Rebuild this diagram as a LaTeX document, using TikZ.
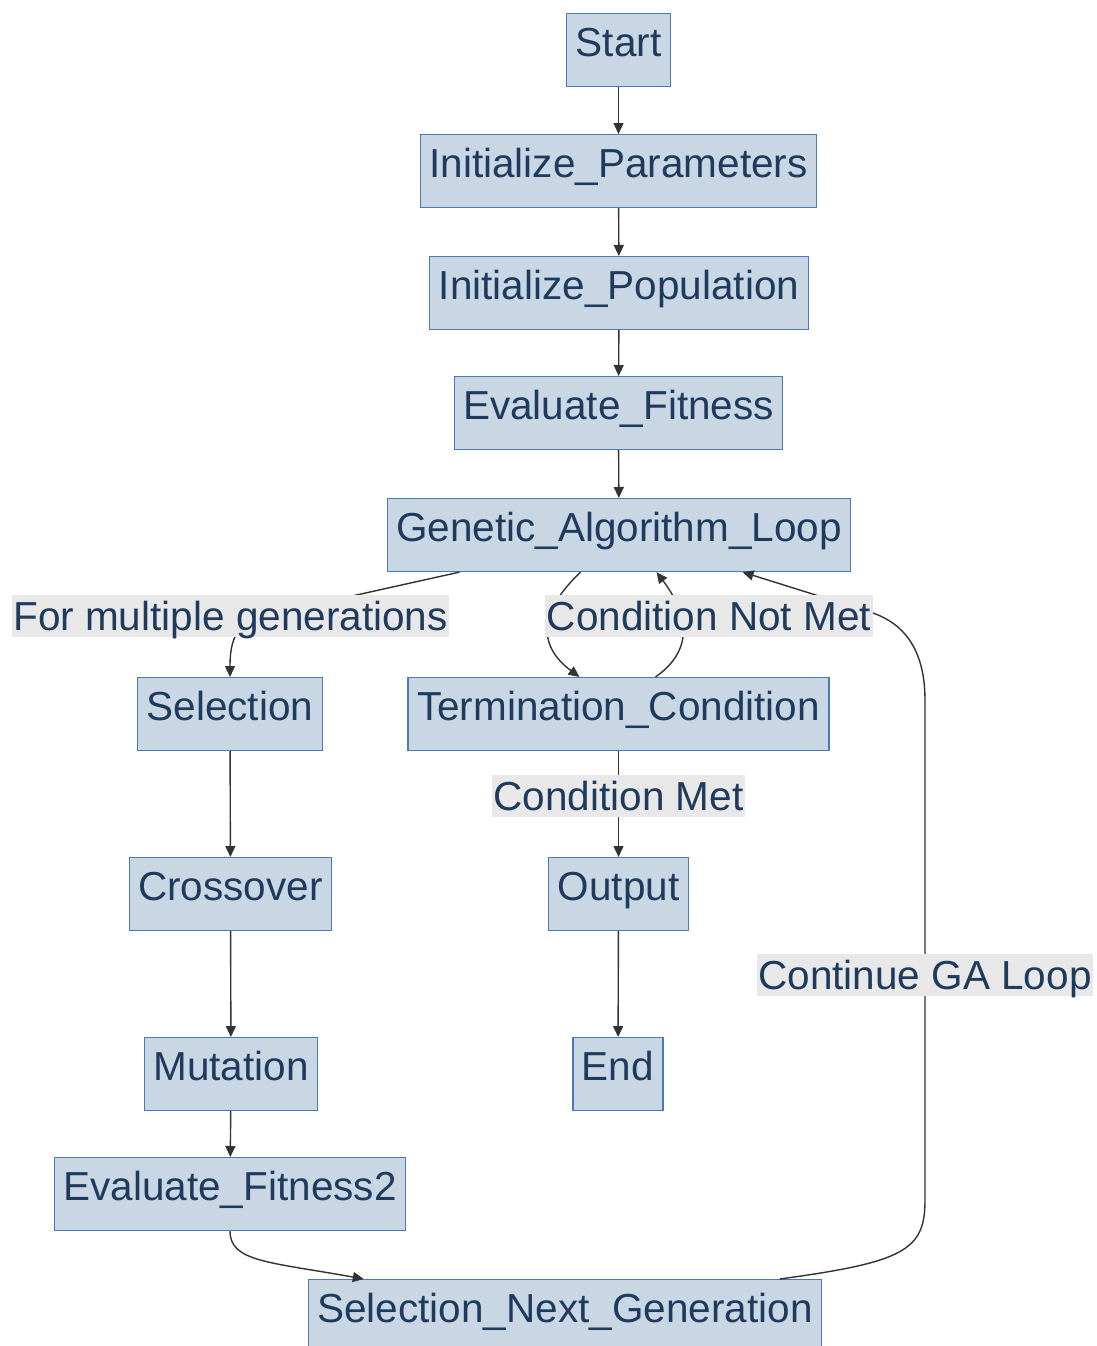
\documentclass[tikz,border=0pt]{standalone}
\usepackage{fontspec}
\setmainfont{Liberation Sans}
\usetikzlibrary{calc,arrows.meta}
\definecolor{boxfill}{HTML}{C9D7E5}
\definecolor{boxline}{HTML}{4A7AB5}
\definecolor{txt}{HTML}{1E3A5C}
\definecolor{lblfill}{HTML}{E8E8E8}
\definecolor{edgecol}{HTML}{333333}
\tikzset{
  box/.style={draw=boxline, fill=boxfill, text=txt, line width=1.1pt, inner xsep=9pt, inner ysep=0pt,
    text height=43pt, text depth=30pt, anchor=north, font=\fontsize{40.5}{48}\selectfont},
  lbl/.style={fill=lblfill, text=txt, inner xsep=1.5pt, inner ysep=0pt, text height=35pt, text depth=7pt,
    anchor=north, font=\fontsize{40.5}{48}\selectfont},
  conn/.style={draw=edgecol, line width=1.4pt, -{Triangle[length=11pt,width=10pt]}},
  plain/.style={draw=edgecol, line width=1.4pt}
}
\begin{document}
\begin{tikzpicture}[x=1pt,y=-1pt]
\useasboundingbox (0,0) rectangle (1096,1346);
\fill[white] (0,0) rectangle (1096,1346);
% nodes
\node[box] (start) at (618.5,13) {Start};
\node[box] (ip) at (618.5,134) {Initialize\_Parameters};
\node[box] (ipop) at (619,256) {Initialize\_Population};
\node[box] (ef) at (618.5,376) {Evaluate\_Fitness};
\node[box] (ga) at (619,498) {Genetic\_Algorithm\_Loop};
\node[box] (sel) at (230,677) {Selection};
\node[box] (tc) at (618.5,677) {Termination\_Condition};
\node[box] (cx) at (230.5,857) {Crossover};
\node[box] (out) at (618.5,857) {Output};
\node[box] (mut) at (231,1037) {Mutation};
\node[box] (endn) at (618,1037) {End};
\node[box] (ef2) at (230,1157) {Evaluate\_Fitness2};
\node[box] (sng) at (565,1279) {Selection\_Next\_Generation};
% straight edges
\draw[conn] (start) -- (ip);
\draw[conn] (ip) -- (ipop);
\draw[conn] (ipop) -- (ef);
\draw[conn] (ef) -- (ga);
\draw[conn] (sel) -- (cx);
\draw[conn] (cx) -- (mut);
\draw[conn] (mut) -- (ef2);
\draw[conn] (out) -- (endn);
\draw[conn] (tc) -- (out);
% curved edges
\draw[conn] ($(ga.south west)+(73,0)$) -- (262,616) .. controls (234,623) and (230,645) .. ($(sel.north)+(0,0)$);
\draw[conn] ($(ga.south west)+(194,0)$) .. controls (548,603) and (530,640) .. ($(tc.north west)+(172,0)$);
\draw[conn] ($(tc.north west)+(248,0)$) .. controls (680,660) and (700,630) .. ($(ga.south west)+(270,0)$);
\draw[conn] ($(sng.north west)+(472,0)$) .. controls (905,1262) and (925,1250) .. (925,1200)
   -- (925,700) .. controls (925,640) and (895,620) .. (870,612) -- ($(ga.south west)+(356,0)$);
\draw[conn] (ef2.south) .. controls (230,1262) and (270,1262) .. ($(sng.north west)+(56,0)$);
% labels
\node[lbl] (l1) at (230.5,595) {For multiple generations};
\node[lbl] (l2) at (709,595) {Condition Not Met};
\node[lbl] (l3) at (618.5,775) {Condition Met};
\node[lbl] (l4) at (925,954) {Continue GA Loop};
\end{tikzpicture}
\end{document}
